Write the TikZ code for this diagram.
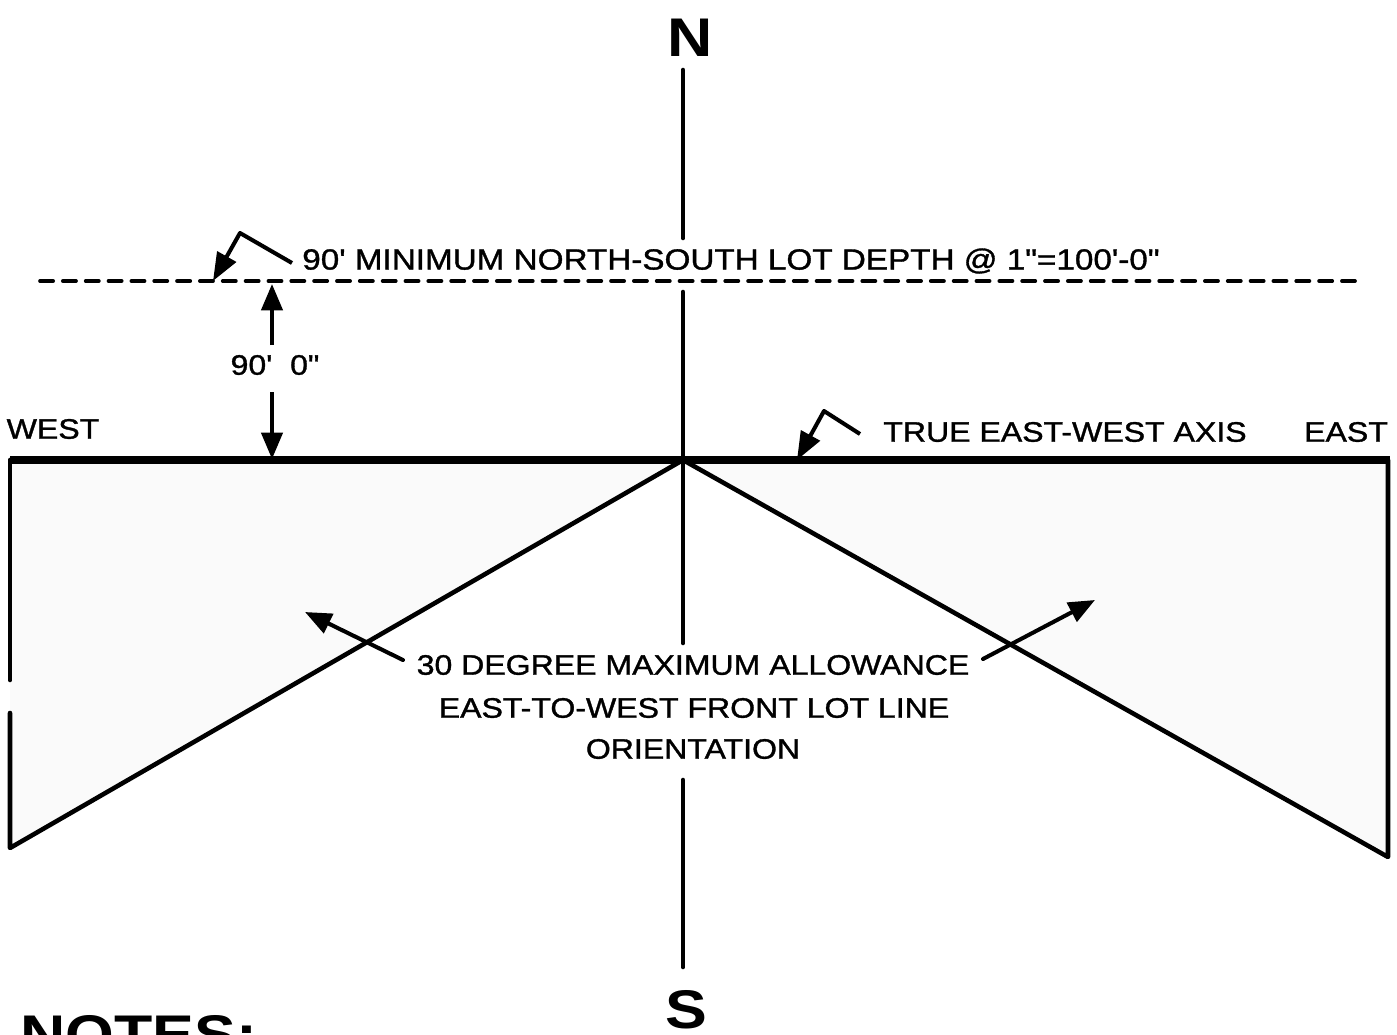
\documentclass[tikz,border=0pt]{standalone}
\usepackage{fontspec}
\setmainfont{Liberation Sans}[FakeStretch=1.15,Ligatures=TeXOff]
\newfontfamily\lblfont{Liberation Sans}[FakeStretch=1.14,FakeBold=1.2,Ligatures=TeXOff]
\usetikzlibrary{arrows.meta}
\begin{document}
\begin{tikzpicture}[x=0.02cm,y=-0.02cm,
  lbl/.style={inner sep=0pt,font=\lblfont\fontsize{16}{19}\selectfont},
  big/.style={inner sep=0pt,font=\fontsize{31}{36}\selectfont\bfseries},
  thinline/.style={line width=2.6pt,line cap=round},
  axisline/.style={line width=4.5pt},
  dashline/.style={line width=2.1pt,line cap=round,dash pattern=on 7.5pt off 5.5pt},
  arr/.style={line width=2.3pt,-{Triangle[length=15pt,width=12pt]}},
  leader/.style={line width=2.3pt,line join=round,-{Triangle[length=16pt,width=12pt]}},
  stip/.style={fill=black!2}]
\useasboundingbox (0,0) rectangle (1397,1035);
\clip (0,0) rectangle (1397,1035);
% geometry coordinates
\coordinate (C) at (683,460);
\coordinate (WL) at (10,460);
\coordinate (ER) at (1390,460);
\coordinate (WB) at (10,848);
\coordinate (EB) at (1388,857);
\coordinate (WG1) at (10,680);
\coordinate (WG2) at (10,713);
% fills
\fill[stip] (WL) -- (C) -- (WB) -- cycle;
\fill[stip] (C) -- (ER) -- (EB) -- cycle;
% labels
\node[big] (N) at (690,38) {N};
\node[big] (S) at (686,1010) {S};
\node[big,anchor=north west] (notes) at (20,1015) {NOTES:};
\node[lbl,font=\lblfont\fontsize{16.6}{19}\selectfont] (depth) at (731,261) {90' MINIMUM NORTH-SOUTH LOT DEPTH @ 1"=100'-0"};
\node[lbl] (dim) at (275,365) {90'\ \ 0"};
\node[lbl] (west) at (53,429) {WEST};
\node[lbl] (east) at (1346,432) {EAST};
\node[lbl] (axis) at (1065,432) {TRUE EAST-WEST AXIS};
\node[lbl] (t1) at (693,665) {30 DEGREE MAXIMUM ALLOWANCE};
\node[lbl] (t2) at (694,708) {EAST-TO-WEST FRONT LOT LINE};
\node[lbl] (t3) at (693,749) {ORIENTATION};
% N-S line
\coordinate (ns1) at (683,70);
\coordinate (ns2) at (683,238);
\coordinate (ns3) at (683,292);
\coordinate (ns4) at (683,643);
\coordinate (ns5) at (683,780);
\coordinate (ns6) at (683,967);
\draw[thinline] (ns1) -- (ns2);
\draw[thinline] (ns3) -- (ns4);
\draw[thinline] (ns5) -- (ns6);
% dashed line
\coordinate (d1) at (40,281);
\coordinate (d2) at (1355,281);
\draw[dashline] (d1) -- (d2);
% west/east outline
\draw[thinline,line join=round] (C) -- (WB) -- (WG2);
\draw[thinline] (WL) -- (WG1);
\draw[thinline,line join=round] (C) -- (EB) -- (1388,460);
\draw[axisline] (WL) -- (ER);
% dimension arrows
\coordinate (up0) at (272,345);
\coordinate (up1) at (272,284);
\coordinate (dn0) at (272,392);
\coordinate (dn1) at (272,459);
\draw[arr] (up0) -- (up1);
\draw[arr] (dn0) -- (dn1);
% leaders
\coordinate (l1a) at (292,263);
\coordinate (l1b) at (240,233);
\coordinate (l1c) at (213,281);
\draw[leader] (l1a) -- (l1b) -- (l1c);
\coordinate (l2a) at (860,434);
\coordinate (l2b) at (824,411);
\coordinate (l2c) at (797,460);
\draw[leader] (l2a) -- (l2b) -- (l2c);
% angle arrows
\coordinate (a1) at (403,660);
\coordinate (a1t) at (305,612);
\coordinate (a2) at (983,659);
\coordinate (a2t) at (1095,600);
\draw[arr,line cap=round] (a1) -- (a1t);
\draw[arr,line cap=round] (a2) -- (a2t);
\end{tikzpicture}
\end{document}
